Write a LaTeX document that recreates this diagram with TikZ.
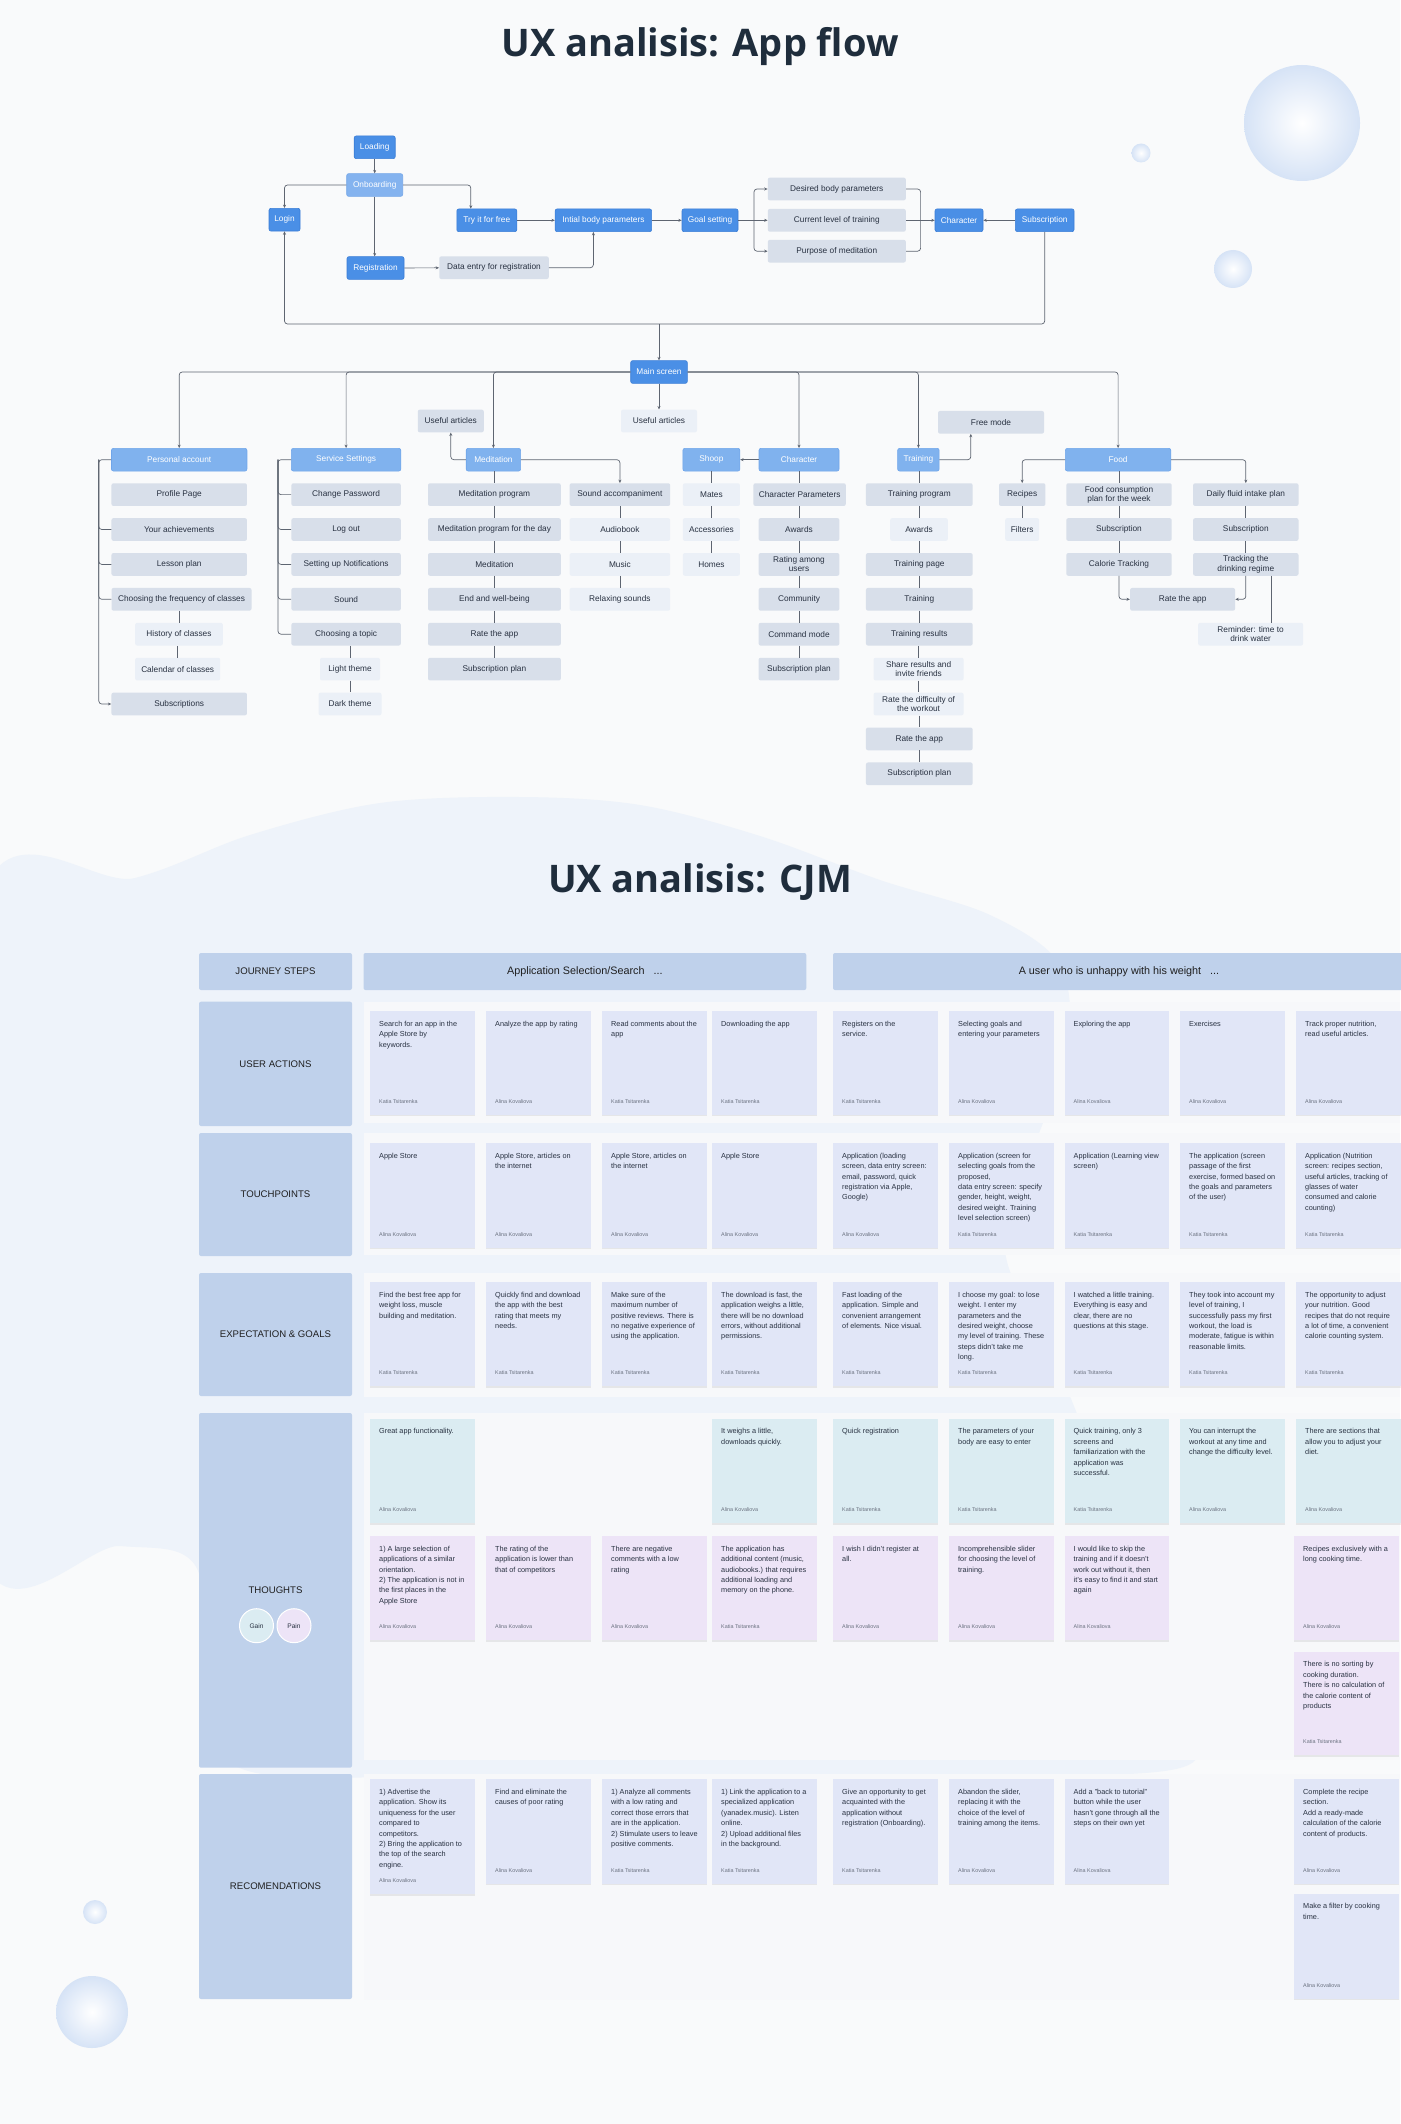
\documentclass[tikz,border=0pt]{standalone}
\usepackage{fontspec}
\setmainfont{Liberation Sans}
\newfontfamily\titlefont{Open Sans}
\usetikzlibrary{calc,arrows.meta,shadows}
\definecolor{bgc}{HTML}{F9FAFB}
\definecolor{blobc}{HTML}{EEF3FA}
\definecolor{rowc}{HTML}{F7F8FA}
\definecolor{circc}{HTML}{D6E3F6}
\definecolor{titc}{HTML}{1F2D3C}
\definecolor{txtc}{HTML}{283141}
\definecolor{authc}{HTML}{6B7280}
\definecolor{dkc}{HTML}{4A8FE6}
\definecolor{dkb}{HTML}{3A7DD6}
\definecolor{obc}{HTML}{84B3EF}
\definecolor{obb}{HTML}{74A6E8}
\definecolor{hdc}{HTML}{80B2EE}
\definecolor{hdb}{HTML}{6FA5EA}
\definecolor{grc}{HTML}{D8DFEA}
\definecolor{ltc}{HTML}{EBF0F7}
\definecolor{lnc}{HTML}{5E6571}
\definecolor{labc}{HTML}{BFD1EB}
\definecolor{cardc}{HTML}{E1E6F7}
\definecolor{gainc}{HTML}{DBECF2}
\definecolor{painc}{HTML}{EDE4F7}
\tikzset{
  fnode/.style={rounded corners=2pt, minimum height=22.7pt, inner sep=0pt, align=center,
    font=\fontsize{8.3}{9.2}\selectfont, text=txtc},
  fdark/.style={fnode, fill=dkc, draw=dkb, line width=0.6pt, text=white},
  fonb/.style={fnode, fill=obc, draw=obb, line width=0.6pt, text=white},
  fhead/.style={fnode, fill=hdc, draw=hdb, line width=0.6pt, text=white},
  fgray/.style={fnode, fill=grc},
  flight/.style={fnode, fill=ltc},
  conn/.style={draw=lnc, line width=0.7pt, rounded corners=3pt},
  arw/.style={-{Stealth[length=3.4pt,width=3pt]}},
  card/.style={draw=none, inner sep=0pt, minimum width=104.5pt,
    drop shadow={fill=black, opacity=0.07, shadow xshift=0pt, shadow yshift=-1.5pt}},
  cardtxt/.style={inner sep=0pt, align=left, text=txtc, font=\fontsize{7.3}{10.4}\selectfont},
  authtxt/.style={inner sep=0pt, text=authc, font=\fontsize{5.4}{6}\selectfont},
  lab/.style={fill=labc, rounded corners=2pt, inner sep=0pt, minimum width=153pt,
    text=black!88, font=\fontsize{9.6}{11}\selectfont},
  ttl/.style={text=titc, inner sep=0pt, font=\titlefont\bfseries\fontsize{38}{46}\selectfont}
}
\newcommand\cjmcard[7]{%
  \node[card, fill=#5, minimum height=#4pt, anchor=north west] (#1) at (#2,#3) {};
  \node[cardtxt, anchor=north west] (#1t) at ([xshift=9pt,yshift=-10pt]#1.north west) {#6};
  \node[authtxt, anchor=base west] (#1a) at ([xshift=9pt,yshift=11.5pt]#1.south west) {#7};
}
\newcommand\vlink[2]{\draw[conn] (#2.north |- #1.south) -- (#2.north);}
\begin{document}
\begin{tikzpicture}[x=1pt,y=-1pt]
\useasboundingbox (0,0) rectangle (1400,2124);
\fill[bgc] (0,0) rectangle (1400,2124);
% decorative blob
\fill[blobc] plot[smooth cycle, tension=0.55] coordinates {(-20,905) (135,878) (250,835) (380,803) (520,797) (640,805) (760,836) (880,880) (990,915) (1060,965) (1068,1050) (1035,1145) (1005,1250) (1050,1350) (1090,1450) (1130,1600) (1175,1700) (1180,1768) (900,1775) (500,1775) (245,1770) (212,1680) (195,1565) (120,1546) (-20,1546)};
% decorative circles
\shade[inner color=white, outer color=circc] (1302,123) circle (58pt);
\shade[inner color=white, outer color=circc] (1141,153) circle (9.5pt);
\shade[inner color=white, outer color=circc] (1233,269) circle (19pt);
\shade[inner color=white, outer color=circc] (95,1912) circle (12pt);
\shade[inner color=white, outer color=circc] (92,2012) circle (36pt);
% titles
\node[ttl, anchor=base] (title1) at (700,57) {UX analisis: App flow};
\node[ttl, anchor=base] (title2) at (700,892) {UX analisis: CJM};

% ================= APP FLOW =================
\node[fdark, minimum width=41pt] (load) at (374.7,147.3) {Loading};
\node[fonb, minimum width=56pt] (onb) at (374.7,185) {Onboarding};
\node[fdark, minimum width=31pt] (login) at (284.5,219.7) {Login};
\node[fdark, minimum width=60pt] (try) at (486.8,220.3) {Try it for free};
\node[fdark, minimum width=96.5pt] (ibp) at (603.4,220.3) {Intial body parameters};
\node[fdark, minimum width=56pt] (goal) at (710,220.3) {Goal setting};
\node[fgray, minimum width=138pt] (dbp) at (836.8,189) {Desired body parameters};
\node[fgray, minimum width=138pt] (clt) at (836.8,220.3) {Current level of training};
\node[fgray, minimum width=138pt] (pom) at (836.8,251.2) {Purpose of meditation};
\node[fdark, minimum width=48pt] (chr0) at (959,220.3) {Character};
\node[fdark, minimum width=58.6pt] (sub0) at (1044.7,220.3) {Subscription};
\node[fdark, minimum width=57pt] (reg) at (375.5,268) {Registration};
\node[fgray, minimum width=109.5pt] (der) at (494,267.7) {Data entry for registration};
\node[fdark, minimum width=56.6pt] (ms) at (659,372) {Main screen};
\coordinate (busY) at (0,324);
\coordinate (fk) at (754,220.3);
\coordinate (mg) at (920.6,220.3);
\coordinate (tryin) at ([xshift=-16pt]try.north);
\coordinate (ibpin) at ([xshift=-10pt]ibp.south);

% Personal account
\node[fhead, minimum width=135.5pt] (pa) at (179.2,459.7) {Personal account};
\node[fgray, minimum width=135.5pt] (pa1) at (179.2,494.6) {Profile Page};
\node[fgray, minimum width=135.5pt] (pa2) at (179.2,529.5) {Your achievements};
\node[fgray, minimum width=135.5pt] (pa3) at (179.2,564.4) {Lesson plan};
\node[fgray, minimum width=140pt] (pa4) at (181.5,599.3) {Choosing the frequency of classes};
\node[flight, minimum width=87.6pt] (pa5) at (179,634.2) {History of classes};
\node[flight, minimum width=85pt] (pa6) at (177.7,669.1) {Calendar of classes};
\node[fgray, minimum width=135.5pt] (pa7) at (179.2,704) {Subscriptions};
\coordinate (paL) at (98.8,459.7);
% Service settings
\node[fhead, minimum width=109.4pt] (ss) at (346.1,459.7) {Service Settings};
\node[fgray, minimum width=109.4pt] (s1) at (346.1,494.6) {Change Password};
\node[fgray, minimum width=109.4pt] (s2) at (346.1,529.5) {Log out};
\node[fgray, minimum width=109.4pt] (s3) at (346.1,564.4) {Setting up Notifications};
\node[fgray, minimum width=109.4pt] (s4) at (346.1,599.3) {Sound};
\node[fgray, minimum width=109.4pt] (s5) at (346.1,634.2) {Choosing a topic};
\node[flight, minimum width=60pt] (s6) at (350,669.1) {Light theme};
\node[flight, minimum width=63pt] (s7) at (350,704) {Dark theme};
\coordinate (ssL) at (278,459.7);
% Meditation
\node[fgray, minimum width=66pt] (ua1) at (450.8,421) {Useful articles};
\node[fhead, minimum width=54.4pt] (med) at (493.4,459.7) {Meditation};
\node[fgray, minimum width=132.8pt] (m1) at (494.4,494.6) {Meditation program};
\node[fgray, minimum width=132.8pt] (m2) at (494.4,529.5) {Meditation program for the day};
\node[fgray, minimum width=132.8pt] (m3) at (494.4,564.4) {Meditation};
\node[fgray, minimum width=132.8pt] (m4) at (494.4,599.3) {End and well-being};
\node[fgray, minimum width=132.8pt] (m5) at (494.4,634.2) {Rate the app};
\node[fgray, minimum width=132.8pt] (m6) at (494.4,669.1) {Subscription plan};
\node[fgray, minimum width=100.6pt] (sa) at (619.9,494.6) {Sound accompaniment};
\node[flight, minimum width=100.6pt] (ab) at (619.9,529.5) {Audiobook};
\node[flight, minimum width=100.6pt] (mu) at (619.9,564.4) {Music};
\node[flight, minimum width=100.6pt] (rs) at (619.9,599.3) {Relaxing sounds};
\node[flight, minimum width=76pt] (ua2) at (659,421) {Useful articles};
% Shoop / Character
\node[fhead, minimum width=57pt] (shp) at (711.4,459.7) {Shoop};
\node[flight, minimum width=57pt] (sh1) at (711.4,494.6) {Mates};
\node[flight, minimum width=57pt] (sh2) at (711.4,529.5) {Accessories};
\node[flight, minimum width=57pt] (sh3) at (711.4,564.4) {Homes};
\node[fhead, minimum width=80pt] (chh) at (799,459.7) {Character};
\node[fgray, minimum width=92.4pt] (c1) at (799.6,494.6) {Character Parameters};
\node[fgray, minimum width=80.8pt] (c2) at (799,529.5) {Awards};
\node[fgray, minimum width=80.8pt] (c3) at (799,564.4) {Rating among\\users};
\node[fgray, minimum width=80.8pt] (c4) at (799,599.3) {Community};
\node[fgray, minimum width=80.8pt] (c5) at (799,634.2) {Command mode};
\node[fgray, minimum width=80.8pt] (c6) at (799,669.1) {Subscription plan};
% Training
\node[fhead, minimum width=41.5pt] (trn) at (918.4,459.7) {Training};
\node[fgray, minimum width=106pt] (fm) at (991,422.3) {Free mode};
\coordinate (fmin) at ([xshift=-20.2pt]fm.south);
\node[fgray, minimum width=106.7pt] (t1) at (919.3,494.6) {Training program};
\node[flight, minimum width=57.6pt] (t2) at (919,529.5) {Awards};
\node[fgray, minimum width=106.7pt] (t3) at (919.3,564.4) {Training page};
\node[fgray, minimum width=106.7pt] (t4) at (919.3,599.3) {Training};
\node[fgray, minimum width=106.7pt] (t5) at (919.3,634.2) {Training results};
\node[flight, minimum width=90pt] (t6) at (918.6,669.1) {Share results and\\invite friends};
\node[flight, minimum width=90pt] (t7) at (918.6,704) {Rate the difficulty of\\the workout};
\node[fgray, minimum width=106.7pt] (t8) at (919.3,738.9) {Rate the app};
\node[fgray, minimum width=106.7pt] (t9) at (919.3,773.8) {Subscription plan};
% Food
\node[fhead, minimum width=105.4pt] (food) at (1118.1,459.7) {Food};
\node[fgray, minimum width=46.4pt] (rcp) at (1022.2,494.6) {Recipes};
\node[flight, minimum width=34pt] (fil) at (1022.2,529.5) {Filters};
\node[fgray, minimum width=105.4pt] (fc1) at (1119,494.6) {Food consumption\\plan for the week};
\node[fgray, minimum width=105.4pt] (fc2) at (1119,529.5) {Subscription};
\node[fgray, minimum width=105.4pt] (fc3) at (1119,564.4) {Calorie Tracking};
\node[fgray, minimum width=105.4pt] (fl1) at (1245.8,494.6) {Daily fluid intake plan};
\node[fgray, minimum width=105.4pt] (fl2) at (1245.8,529.5) {Subscription};
\node[fgray, minimum width=105.4pt] (fl3) at (1245.8,564.4) {Tracking the\\drinking regime};
\node[fgray, minimum width=105pt] (rta) at (1182.6,599.3) {Rate the app};
\node[flight, minimum width=105pt] (rem) at (1250.6,634.2) {Reminder: time to\\drink water};
\coordinate (remc) at ([xshift=20.7pt]rem.north);

% ---- connectors (top flow)
\draw[conn,arw] (load) -- (onb);
\draw[conn,arw] (onb.west) -| (login.north);
\draw[conn,arw] (onb.east) -| (tryin);
\draw[conn,arw] (onb.south) -- (onb.south |- reg.north);
\draw[conn,arw] (reg) -- (der);
\draw[conn,arw] (der.east) -| (ibpin);
\draw[conn,arw] (try) -- (ibp);
\draw[conn,arw] (ibp) -- (goal);
\draw[conn] (goal.east) -- (fk);
\draw[conn,arw] (fk) |- (dbp.west);
\draw[conn,arw] (fk) -- (clt.west);
\draw[conn,arw] (fk) |- (pom.west);
\draw[conn] (dbp.east) -| (mg);
\draw[conn] (pom.east) -| (mg);
\draw[conn,arw] (clt.east) -- (chr0.west);
\draw[conn,arw] (sub0) -- (chr0);
\draw[conn,arw] (sub0.south) |- (login.south |- busY) -- (login.south);
\draw[conn,arw] (ms.north |- busY) -- (ms.north);
% ---- main screen branches
\draw[conn,arw] (ms.west) -| (pa.north);
\draw[conn,arw] (ms.west) -| (ss.north);
\draw[conn,arw] (ms.west) -| (med.north);
\draw[conn,arw] (ms.east) -| (chh.north);
\draw[conn,arw] (ms.east) -| (trn.north);
\draw[conn,arw] (ms.east) -| (food.north);
\draw[conn,arw] (ms.south) -- (ua2.north);
% ---- sub branches
\draw[conn,arw] (pa.west) -- (paL) |- (pa7.west);
\draw[conn] (paL) |- (pa2.west);
\draw[conn] (paL) |- (pa3.west);
\draw[conn] (paL) |- (pa4.west);
\vlink{pa4}{pa5}\vlink{pa5}{pa6}
\draw[conn] (ss.west) -- (ssL) |- (s5.west);
\draw[conn] (ssL) |- (s1.west);
\draw[conn] (ssL) |- (s2.west);
\draw[conn] (ssL) |- (s3.west);
\draw[conn] (ssL) |- (s4.west);
\vlink{s5}{s6}\vlink{s6}{s7}
\draw[conn,arw] (med.west) -| (ua1.south);
\draw[conn,arw] (med.east) -| (sa.north);
\vlink{med}{m1}\vlink{m1}{m2}\vlink{m2}{m3}\vlink{m3}{m4}\vlink{m4}{m5}\vlink{m5}{m6}
\vlink{sa}{ab}\vlink{ab}{mu}\vlink{mu}{rs}
\draw[conn,arw] (chh.west) -- (shp.east);
\vlink{shp}{sh1}\vlink{sh1}{sh2}\vlink{sh2}{sh3}
\vlink{chh}{c1}\vlink{c1}{c2}\vlink{c2}{c3}\vlink{c3}{c4}\vlink{c4}{c5}\vlink{c5}{c6}
\draw[conn,arw] (trn.east) -| (fmin);
\vlink{trn}{t1}\vlink{t1}{t2}\vlink{t2}{t3}\vlink{t3}{t4}\vlink{t4}{t5}\vlink{t5}{t6}\vlink{t6}{t7}\vlink{t7}{t8}\vlink{t8}{t9}
\draw[conn,arw] (food.west) -| (rcp.north);
\draw[conn,arw] (food.east) -| (fl1.north);
\vlink{rcp}{fil}
\vlink{food}{fc1}\vlink{fc1}{fc2}\vlink{fc2}{fc3}
\vlink{fl1}{fl2}\vlink{fl2}{fl3}
\draw[conn,arw] (fc3.south) |- (rta.west);
\draw[conn,arw] (fl3.south) |- (rta.east);
\draw[conn] (remc |- fl3.south) -- (remc);

% ================= CJM =================
\fill[rowc] (363.5,1001.7) rectangle (1400,1123.3);
\fill[rowc] (363.5,1133.3) rectangle (1400,1255);
\fill[rowc] (363.5,1273) rectangle (1400,1396.7);
\fill[rowc] (363.5,1413) rectangle (1400,1760.3);
\fill[rowc] (363.5,1774) rectangle (1400,2000);

\node[lab, minimum height=37pt] (ljs) at (275.5,971.5) {JOURNEY STEPS};
\node[lab, minimum height=124.3pt] (lua) at (275.5,1063.85) {USER ACTIONS};
\node[lab, minimum height=123pt] (ltp) at (275.5,1194.5) {TOUCHPOINTS};
\node[lab, minimum height=123pt] (leg) at (275.5,1334.5) {EXPECTATION \& GOALS};
\node[lab, minimum height=354.7pt] (lth) at (275.5,1590.35) {THOUGHTS};
\node[lab, minimum height=225pt] (lrc) at (275.5,1886.5) {RECOMENDATIONS};
\node[circle, fill=gainc, draw=white, line width=1pt, minimum size=34pt, inner sep=0pt,
  text=txtc, font=\fontsize{6.6}{7}\selectfont] (gain) at (256.5,1625.7) {Gain};
\node[circle, fill=painc, draw=white, line width=1pt, minimum size=34pt, inner sep=0pt,
  text=txtc, font=\fontsize{6.6}{7}\selectfont] (pain) at (294,1625.7) {Pain};

\node[lab, minimum width=442.8pt, minimum height=37pt, font=\fontsize{10.8}{12}\selectfont] (jh1) at (584.9,971.5) {Application Selection/Search\hspace{9pt}...};
\node[lab, minimum width=572pt, minimum height=37pt, font=\fontsize{10.8}{12}\selectfont] (jh2) at (1119,971.5) {A user who is unhappy with his weight\hspace{9pt}...};

% user actions
\cjmcard{cu1}{370}{1010.7}{103.6}{cardc}{Search for an app in the\\Apple Store by\\keywords.}{Katia Tsitarenka}
\cjmcard{cu2}{486}{1010.7}{103.6}{cardc}{Analyze the app by rating}{Alina Kovaliova}
\cjmcard{cu3}{602}{1010.7}{103.6}{cardc}{Read comments about the\\app}{Katia Tsitarenka}
\cjmcard{cu4}{712}{1010.7}{103.6}{cardc}{Downloading the app}{Katia Tsitarenka}
\cjmcard{cu5}{833}{1010.7}{103.6}{cardc}{Registers on the\\service.}{Katia Tsitarenka}
\cjmcard{cu6}{949}{1010.7}{103.6}{cardc}{Selecting goals and\\entering your parameters}{Alina Kovaliova}
\cjmcard{cu7}{1064.5}{1010.7}{103.6}{cardc}{Exploring the app}{Alina Kovaliova}
\cjmcard{cu8}{1180}{1010.7}{103.6}{cardc}{Exercises}{Alina Kovaliova}
\cjmcard{cu9}{1296}{1010.7}{103.6}{cardc}{Track proper nutrition,\\read useful articles.}{Alina Kovaliova}
% touchpoints
\cjmcard{ct1}{370}{1142.7}{104.6}{cardc}{Apple Store}{Alina Kovaliova}
\cjmcard{ct2}{486}{1142.7}{104.6}{cardc}{Apple Store, articles on\\the internet}{Alina Kovaliova}
\cjmcard{ct3}{602}{1142.7}{104.6}{cardc}{Apple Store, articles on\\the internet}{Alina Kovaliova}
\cjmcard{ct4}{712}{1142.7}{104.6}{cardc}{Apple Store}{Alina Kovaliova}
\cjmcard{ct5}{833}{1142.7}{104.6}{cardc}{Application (loading\\screen, data entry screen:\\email, password, quick\\registration via Apple,\\Google)}{Alina Kovaliova}
\cjmcard{ct6}{949}{1142.7}{104.6}{cardc}{Application (screen for\\selecting goals from the\\proposed,\\data entry screen: specify\\gender, height, weight,\\desired weight. Training\\level selection screen)}{Katia Tsitarenka}
\cjmcard{ct7}{1064.5}{1142.7}{104.6}{cardc}{Application (Learning view\\screen)}{Katia Tsitarenka}
\cjmcard{ct8}{1180}{1142.7}{104.6}{cardc}{The application (screen\\passage of the first\\exercise, formed based on\\the goals and parameters\\of the user)}{Katia Tsitarenka}
\cjmcard{ct9}{1296}{1142.7}{104.6}{cardc}{Application (Nutrition\\screen: recipes section,\\useful articles, tracking of\\glasses of water\\consumed and calorie\\counting)}{Katia Tsitarenka}
% expectation
\cjmcard{ce1}{370}{1281.7}{104.3}{cardc}{Find the best free app for\\weight loss, muscle\\building and meditation.}{Katia Tsitarenka}
\cjmcard{ce2}{486}{1281.7}{104.3}{cardc}{Quickly find and download\\the app with the best\\rating that meets my\\needs.}{Katia Tsitarenka}
\cjmcard{ce3}{602}{1281.7}{104.3}{cardc}{Make sure of the\\maximum number of\\positive reviews. There is\\no negative experience of\\using the application.}{Katia Tsitarenka}
\cjmcard{ce4}{712}{1281.7}{104.3}{cardc}{The download is fast, the\\application weighs a little,\\there will be no download\\errors, without additional\\permissions.}{Katia Tsitarenka}
\cjmcard{ce5}{833}{1281.7}{104.3}{cardc}{Fast loading of the\\application. Simple and\\convenient arrangement\\of elements. Nice visual.}{Katia Tsitarenka}
\cjmcard{ce6}{949}{1281.7}{104.3}{cardc}{I choose my goal: to lose\\weight. I enter my\\parameters and the\\desired weight, choose\\my level of training. These\\steps didn't take me\\long.}{Katia Tsitarenka}
\cjmcard{ce7}{1064.5}{1281.7}{104.3}{cardc}{I watched a little training.\\Everything is easy and\\clear, there are no\\questions at this stage.}{Katia Tsitarenka}
\cjmcard{ce8}{1180}{1281.7}{104.3}{cardc}{They took into account my\\level of training, I\\successfully pass my first\\workout, the load is\\moderate, fatigue is within\\reasonable limits.}{Katia Tsitarenka}
\cjmcard{ce9}{1296}{1281.7}{104.3}{cardc}{The opportunity to adjust\\your nutrition. Good\\recipes that do not require\\a lot of time, a convenient\\calorie counting system.}{Katia Tsitarenka}
% thoughts: gain
\cjmcard{cg1}{370}{1418.3}{104.7}{gainc}{Great app functionality.}{Alina Kovaliova}
\cjmcard{cg4}{712}{1418.3}{104.7}{gainc}{It weighs a little,\\downloads quickly.}{Alina Kovaliova}
\cjmcard{cg5}{833}{1418.3}{104.7}{gainc}{Quick registration}{Katia Tsitarenka}
\cjmcard{cg6}{949}{1418.3}{104.7}{gainc}{The parameters of your\\body are easy to enter}{Katia Tsitarenka}
\cjmcard{cg7}{1064.5}{1418.3}{104.7}{gainc}{Quick training, only 3\\screens and\\familiarization with the\\application was\\successful.}{Katia Tsitarenka}
\cjmcard{cg8}{1180}{1418.3}{104.7}{gainc}{You can interrupt the\\workout at any time and\\change the difficulty level.}{Alina Kovaliova}
\cjmcard{cg9}{1296}{1418.3}{104.7}{gainc}{There are sections that\\allow you to adjust your\\diet.}{Alina Kovaliova}
% thoughts: pain
\cjmcard{cp1}{370}{1535.7}{104.3}{painc}{1) A large selection of\\applications of a similar\\orientation.\\2) The application is not in\\the first places in the\\Apple Store}{Alina Kovaliova}
\cjmcard{cp2}{486}{1535.7}{104.3}{painc}{The rating of the\\application is lower than\\that of competitors}{Alina Kovaliova}
\cjmcard{cp3}{602}{1535.7}{104.3}{painc}{There are negative\\comments with a low\\rating}{Alina Kovaliova}
\cjmcard{cp4}{712}{1535.7}{104.3}{painc}{The application has\\additional content (music,\\audiobooks.) that requires\\additional loading and\\memory on the phone.}{Katia Tsitarenka}
\cjmcard{cp5}{833}{1535.7}{104.3}{painc}{I wish I didn't register at\\all.}{Alina Kovaliova}
\cjmcard{cp6}{949}{1535.7}{104.3}{painc}{Incomprehensible slider\\for choosing the level of\\training.}{Alina Kovaliova}
\cjmcard{cp7}{1064.5}{1535.7}{104.3}{painc}{I would like to skip the\\training and if it doesn't\\work out without it, then\\it's easy to find it and start\\again}{Alina Kovaliova}
\cjmcard{cp9}{1294}{1535.7}{104.3}{painc}{Recipes exclusively with a\\long cooking time.}{Alina Kovaliova}
\cjmcard{cq9}{1294}{1651.3}{103.7}{painc}{There is no sorting by\\cooking duration.\\There is no calculation of\\the calorie content of\\products}{Katia Tsitarenka}
% recommendations
\cjmcard{cr1}{370}{1779}{115}{cardc}{1) Advertise the\\application. Show its\\uniqueness for the user\\compared to\\competitors.\\2) Bring the application to\\the top of the search\\engine.}{Alina Kovaliova}
\cjmcard{cr2}{486}{1779}{104.3}{cardc}{Find and eliminate the\\causes of poor rating}{Alina Kovaliova}
\cjmcard{cr3}{602}{1779}{104.3}{cardc}{1) Analyze all comments\\with a low rating and\\correct those errors that\\are in the application.\\2) Stimulate users to leave\\positive comments.}{Katia Tsitarenka}
\cjmcard{cr4}{712}{1779}{104.3}{cardc}{1) Link the application to a\\specialized application\\(yanadex.music). Listen\\online.\\2) Upload additional files\\in the background.}{Katia Tsitarenka}
\cjmcard{cr5}{833}{1779}{104.3}{cardc}{Give an opportunity to get\\acquainted with the\\application without\\registration (Onboarding).}{Katia Tsitarenka}
\cjmcard{cr6}{949}{1779}{104.3}{cardc}{Abandon the slider,\\replacing it with the\\choice of the level of\\training among the items.}{Alina Kovaliova}
\cjmcard{cr7}{1064.5}{1779}{104.3}{cardc}{Add a "back to tutorial"\\button while the user\\hasn't gone through all the\\steps on their own yet}{Alina Kovaliova}
\cjmcard{cr9}{1294}{1779}{104.3}{cardc}{Complete the recipe\\section.\\Add a ready-made\\calculation of the calorie\\content of products.}{Alina Kovaliova}
\cjmcard{cs9}{1294}{1893.3}{105}{cardc}{Make a filter by cooking\\time.}{Alina Kovaliova}
\end{tikzpicture}
\end{document}
